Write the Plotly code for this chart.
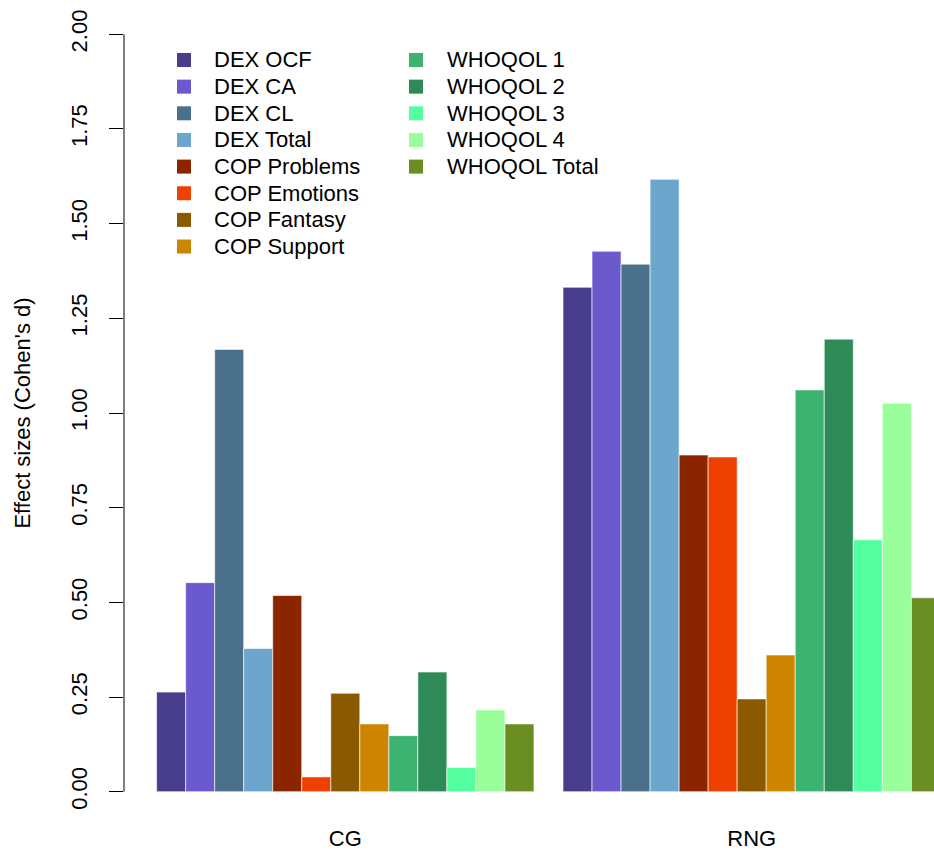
import plotly.graph_objects as go

groups = ["CG", "RNG"]
series = ["DEX OCF", "DEX CA", "DEX CL", "DEX Total",
          "COP Problems", "COP Emotions", "COP Fantasy", "COP Support",
          "WHOQOL 1", "WHOQOL 2", "WHOQOL 3", "WHOQOL 4", "WHOQOL Total"]
cg_values = [0.263, 0.552, 1.168, 0.378, 0.518, 0.039, 0.260, 0.179,
             0.148, 0.316, 0.064, 0.216, 0.179]
rng_values = [1.332, 1.427, 1.393, 1.617, 0.889, 0.884, 0.245, 0.361,
              1.061, 1.195, 0.665, 1.026, 0.512]
colors = ["#483D8B", "#6A5ACD", "#4A708B", "#6CA6CD",
          "#8B2500", "#EE4000", "#8B5A00", "#CD8500",
          "#3CB371", "#2E8B57", "#54FF9F", "#9AFF9A", "#6B8E23"]
y_ticks = [0, 0.25, 0.5, 0.75, 1.0, 1.25, 1.5, 1.75, 2.0]
y_ticktext = ["0.00", "0.25", "0.50", "0.75", "1.00", "1.25", "1.50", "1.75", "2.00"]

W, H = 934, 854
ML, MR, MT, MB = 124, 0, 4, 32
PW, PH = W - ML - MR, H - MT - MB
FONT = "Liberation Sans, Arial, sans-serif"

def px2x(px):
    return (px - ML) / PW

def py2y(py):
    return (H - MB - py) / PH

fig = go.Figure()
for i, name in enumerate(series):
    fig.add_trace(go.Bar(
        x=groups, y=[cg_values[i], rng_values[i]], name=name,
        marker=dict(color=colors[i], line=dict(color="rgba(255,255,255,0.6)", width=1)),
        showlegend=False,
    ))

shapes = [dict(type="line", xref="paper", yref="y", x0=0, x1=0, y0=0, y1=2,
               line=dict(color="black", width=1))]
annotations = []
rows_per_col = 8
for i, name in enumerate(series):
    col, row = divmod(i, rows_per_col)
    cy = 60 + row * 26.65
    kx0 = 177 if col == 0 else 409
    tx = 212 if col == 0 else 445
    shapes.append(dict(type="rect", xref="paper", yref="paper",
                       x0=px2x(kx0), x1=px2x(kx0 + 14),
                       y0=py2y(cy + 7), y1=py2y(cy - 7),
                       fillcolor=colors[i], line=dict(width=0)))
    annotations.append(dict(xref="paper", yref="paper", x=px2x(tx), y=py2y(cy),
                            text=name, showarrow=False, xanchor="left", yanchor="middle",
                            font=dict(size=22, color="black", family=FONT)))

fig.update_layout(
    width=W, height=H,
    margin=dict(l=ML, r=MR, t=MT, b=MB, pad=0),
    paper_bgcolor="white", plot_bgcolor="white",
    barmode="group", bargap=1/14, bargroupgap=0,
    font=dict(family=FONT, size=22, color="black"),
    shapes=shapes, annotations=annotations,
    xaxis=dict(range=[-0.5445, 1.4486], showgrid=False, zeroline=False, showline=False,
               ticks="", tickfont=dict(size=22), ticklabelstandoff=1),
    yaxis=dict(range=[-0.08, 2.08], showgrid=False, zeroline=False, showline=False,
               tickvals=y_ticks, ticktext=y_ticktext, tickangle=-90,
               ticks="outside", ticklen=14, tickcolor="black", tickwidth=1,
               tickfont=dict(size=22), ticklabelstandoff=13,
               title=dict(text="Effect sizes (Cohen's d)", font=dict(size=22), standoff=30)),
)

fig.write_html("out.html")
